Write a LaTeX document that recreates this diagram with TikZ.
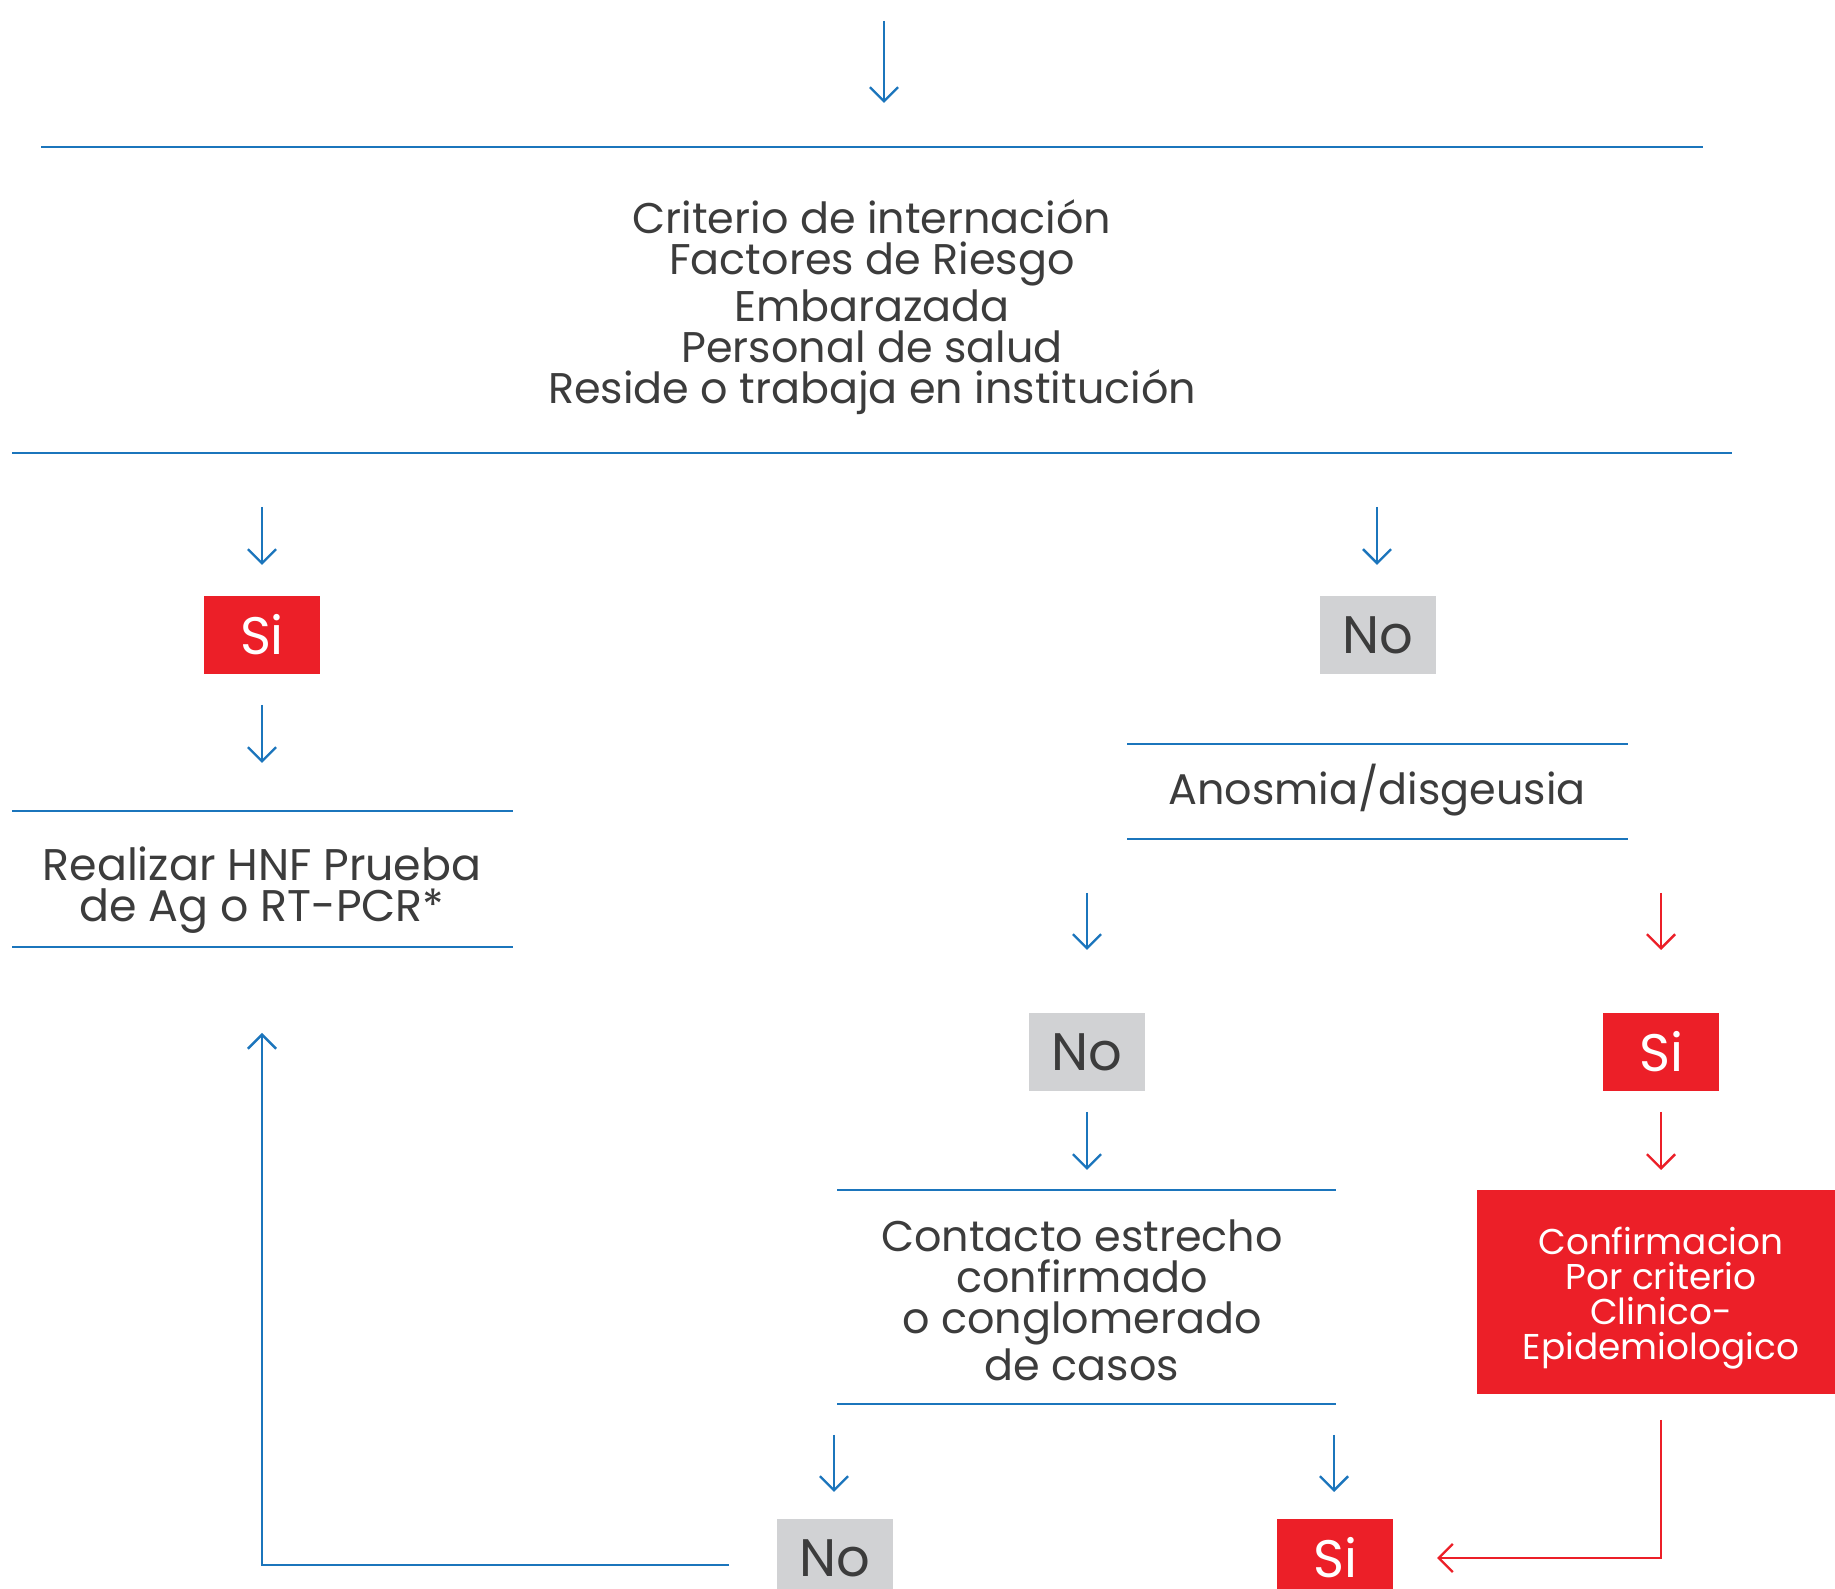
\documentclass[tikz,border=0pt]{standalone}
\usepackage{fontspec}
\setmainfont{Poppins}
\usetikzlibrary{arrows.meta}

\tikzset{
    rule/.style={draw=FlowBlue, line width=0.8pt},
    arr/.style={draw=FlowBlue, line width=0.7pt, -{Straight Barb[length=4pt, width=8pt]}},
    redarr/.style={arr, draw=FlowRed},
    txt/.style={text=TextGray, align=center, font=\fontsize{12.2}{11.7}\selectfont},
    answer/.style={minimum width=1.16cm, minimum height=0.77cm, inner sep=0pt, font=\fontsize{15}{15}\selectfont},
    yesbox/.style={answer, fill=FlowRed, text=white},
    nobox/.style={answer, fill=BoxGray, text=TextGray},
}

\begin{document}
\begin{tikzpicture}[x=0.01cm, y=-0.01cm]
    \definecolor{FlowBlue}{HTML}{1B75BC}
    \definecolor{FlowRed}{HTML}{EC1F28}
    \definecolor{BoxGray}{HTML}{D1D2D4}
    \definecolor{TextGray}{HTML}{3C3C3C}
    \useasboundingbox[fill=white] (0,0) rectangle (1835,1589);

    % text blocks
    \node[txt] (criterio) at (872, 307) {Criterio de internación\\Factores de Riesgo\\Embarazada\\Personal de salud\\Reside o trabaja en institución};
    \node[txt, font=\fontsize{12.6}{11.7}\selectfont] (realizar) at (262, 890) {Realizar HNF Prueba\\de Ag o RT-PCR*};
    \node[txt] (anosmia) at (1377, 790) {Anosmia/disgeusia};
    \node[txt] (contacto) at (1082, 1300) {Contacto estrecho\\confirmado\\o conglomerado\\de casos};
    \node[fill=FlowRed, minimum width=3.68cm, minimum height=2.04cm] (confirma) at (1661, 1292) {};
    \node[text=white, align=center, font=\fontsize{10.2}{10}\selectfont] (confirmaTxt) at (1661, 1298)
          {Confirmacion\\Por criterio\\Clinico-\\Epidemiologico};

    % answer boxes
    \node[yesbox] (siA) at (262, 635) {Si};
    \node[nobox] (noA) at (1378, 635) {No};
    \node[nobox] (noB) at (1087, 1052) {No};
    \node[yesbox] (siB) at (1661, 1052) {Si};
    \node[nobox] (noC) at (835, 1558) {No};
    \node[yesbox] (siC) at (1335, 1558) {Si};

    % horizontal rules
    \foreach \name/\xa/\xb/\y in {crTop/41/1703/147, crBot/12/1732/453,
                                 reTop/12/513/811, reBot/12/513/947,
                                 anTop/1127/1628/744, anBot/1127/1628/839,
                                 coTop/837/1336/1190, coBot/837/1336/1404}{
        \coordinate (\name W) at (\xa, \y);
        \coordinate (\name E) at (\xb, \y);
        \draw[rule] (\name W) -- (\name E);
    }

    % short arrows
    \foreach \name/\x/\ya/\yb in {start/884/21/103, toSiA/262/507/565, toNoA/1377/507/565,
                                 toReal/262/705/763, toNoB/1087/893/950,
                                 toCont/1087/1112/1170, toNoC/834/1435/1492, toSiC/1334/1435/1492}{
        \coordinate (\name S) at (\x, \ya);
        \coordinate (\name E) at (\x, \yb);
        \draw[arr] (\name S) -- (\name E);
    }
    \foreach \name/\x/\ya/\yb in {toSiB/1661/893/950, toConf/1661/1112/1170}{
        \coordinate (\name S) at (\x, \ya);
        \coordinate (\name E) at (\x, \yb);
        \draw[redarr] (\name S) -- (\name E);
    }

    % return paths
    \coordinate (backS) at (729, 1565);
    \coordinate (backE) at (262, 1033);
    \draw[arr] (backS) -| (backE);
    \coordinate (confS) at (1661, 1420);
    \coordinate (confE) at (1437, 1558);
    \draw[redarr] (confS) |- (confE);
\end{tikzpicture}
\end{document}
